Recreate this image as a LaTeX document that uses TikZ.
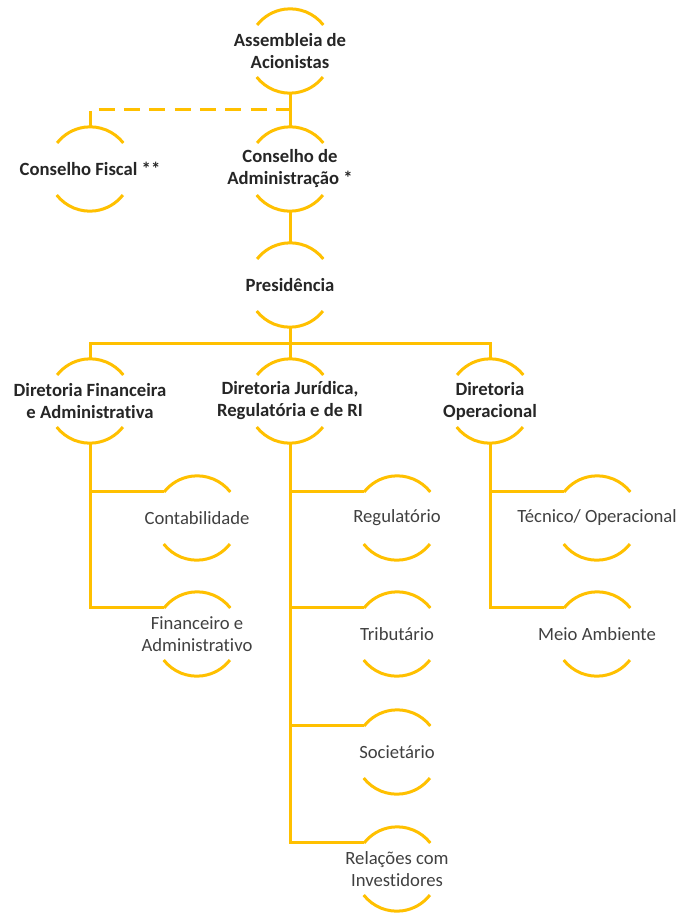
\documentclass[tikz,border=0pt]{standalone}
\usepackage{fontspec}
\setmainfont{Carlito}[Ligatures=NoCommon]
\definecolor{gold}{HTML}{FFC000}
\definecolor{ink}{HTML}{262626}
\definecolor{soft}{HTML}{404040}

\begin{document}
\begin{tikzpicture}[x=0.75pt, y=-0.75pt,
  link/.style={draw=gold, line width=2.25pt},
  dashlink/.style={link, dash pattern=on 12pt off 7pt},
  unit/.style={circle, minimum size=63pt, inner sep=0pt},
  head/.style={unit, label={[anchor=center, align=center, text=ink,
      font=\fontsize{14}{16.5}\selectfont\bfseries]center:#1}},
  sub/.style={unit, label={[anchor=center, align=center, text=soft,
      font=\fontsize{14}{16.5}\selectfont]center:#1}}]
\useasboundingbox (0,0) rectangle (677,913);

% top
\node[head={Assembleia de\\Acionistas}] (asm) at (290,51) {};
\node[head={Conselho Fiscal **}] (fis) at (90,169) {};
\node[head={Conselho de\\Administração *}] (adm) at (290,169) {};
\node[head={Presidência}] (pre) at (290,285) {};

% diretorias
\node[head={Diretoria Financeira\\e Administrativa}] (dfa) at (90,401) {};
\node[head={Diretoria Jurídica,\\Regulatória e de RI}] (djr) at (290,401) {};
\node[head={Diretoria\\Operacional}] (dop) at (490,401) {};

% areas
\node[sub={Contabilidade}] (cont) at (197,518) {};
\node[sub={Financeiro e\\Administrativo}] (fin) at (197,634) {};
\node[sub={Regulatório}] (reg) at (397,518) {};
\node[sub={Tributário}] (trib) at (397,634) {};
\node[sub={Societário}] (soc) at (397,752) {};
\node[sub={Relações com\\Investidores}] (ri) at (397,869) {};
\node[sub={Técnico/ Operacional}] (tec) at (597,518) {};
\node[sub={Meio Ambiente}] (meio) at (597,634) {};

\foreach \n in {asm,fis,adm,pre,dfa,djr,dop,cont,fin,reg,trib,soc,ri,tec,meio}{
  \draw[link] (\n.38) arc (38:142:31.5pt);
  \draw[link] (\n.218) arc (218:322:31.5pt);
}

\coordinate (split) at (290,110);
\coordinate (fork) at (290,343);

\draw[link] (asm.south) -- (adm.north);
\draw[dashlink] (fis.north) |- (split);
\draw[link] (adm.south) -- (pre.north);
\draw[link] (pre.south) -- (djr.north);
\draw[link] (dfa.north) |- (fork) -| (dop.north);

\draw[link] (dfa.south) |- (cont.142);
\draw[link] (dfa.south) |- (fin.142);
\draw[link] (djr.south) |- (reg.142);
\draw[link] (djr.south) |- (trib.142);
\draw[link] (djr.south) |- (soc.142);
\draw[link] (djr.south) |- (ri.142);
\draw[link] (dop.south) |- (tec.142);
\draw[link] (dop.south) |- (meio.142);
\end{tikzpicture}
\end{document}
